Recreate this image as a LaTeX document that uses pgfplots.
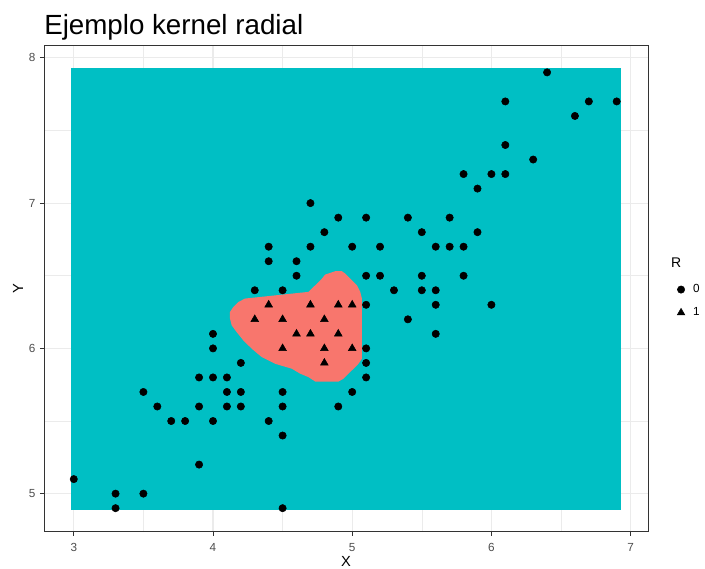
\documentclass[border=0pt]{standalone}
\usepackage{pgfplots}
\pgfplotsset{compat=1.18}
\usepackage{pgfplotstable}
\usepackage{fontspec}
\setmainfont{Liberation Sans}
\definecolor{teal}{HTML}{00BFC4}
\definecolor{salmon}{HTML}{F8766D}
\definecolor{gridc}{HTML}{EBEBEB}
\definecolor{grey20}{HTML}{333333}
\definecolor{grey30}{HTML}{4D4D4D}

\pgfplotstableread{
x y
2.983 4.890
6.928 4.890
6.928 7.933
2.983 7.933
}\backgr

\pgfplotstableread{
x y
4.230 6.343
4.686 6.389
4.734 6.434
4.782 6.480
4.806 6.508
4.878 6.531
4.926 6.531
4.950 6.515
4.986 6.480
5.034 6.434
5.058 6.389
5.070 6.343
5.070 5.929
5.045 5.894
5.010 5.860
4.973 5.826
4.937 5.791
4.902 5.772
4.734 5.772
4.686 5.802
4.626 5.826
4.566 5.860
4.446 5.894
4.350 5.940
4.278 5.998
4.218 6.055
4.170 6.112
4.134 6.159
4.122 6.205
4.122 6.251
4.146 6.285
4.182 6.319
}\region

\pgfplotstableread{
x y
3.0 5.1
3.3 5.0
3.3 4.9
3.5 5.0
3.5 5.7
3.6 5.6
3.7 5.5
3.8 5.5
3.9 5.8
3.9 5.6
3.9 5.2
4.0 5.8
4.0 5.5
4.0 6.0
4.0 6.1
4.1 5.8
4.1 5.7
4.1 5.6
4.2 5.9
4.2 5.7
4.2 5.6
4.4 5.5
4.5 5.7
4.5 5.6
4.5 5.4
4.5 4.9
4.9 5.6
5.0 5.7
5.1 5.8
5.1 5.9
5.1 6.0
5.1 6.3
5.1 6.5
4.3 6.4
4.5 6.4
4.6 6.5
4.6 6.6
4.4 6.6
4.4 6.7
4.7 6.7
4.7 7.0
4.8 6.8
4.9 6.9
5.0 6.7
5.1 6.9
5.2 6.7
5.2 6.5
5.3 6.4
5.4 6.9
5.4 6.2
5.5 6.8
5.5 6.5
5.5 6.4
5.6 6.7
5.6 6.4
5.6 6.3
5.6 6.1
5.7 6.9
5.7 6.7
5.8 6.7
5.8 6.5
5.8 7.2
5.9 7.1
5.9 6.8
6.0 7.2
6.0 6.3
6.1 7.2
6.1 7.4
6.1 7.7
6.3 7.3
6.4 7.9
6.6 7.6
6.7 7.7
6.9 7.7
}\rzero

\pgfplotstableread{
x y
4.4 6.3
4.7 6.3
4.9 6.3
5.0 6.3
4.3 6.2
4.5 6.2
4.8 6.2
4.6 6.1
4.7 6.1
4.9 6.1
4.5 6.0
4.8 6.0
5.0 6.0
4.8 5.9
}\rone

\begin{document}
\begin{tikzpicture}
\begin{axis}[
  at={(33pt,27.225pt)}, anchor=south west,
  scale only axis, width=453pt, height=364.65pt,
  xmin=2.786, xmax=7.125, ymin=4.738, ymax=8.085,
  xtick={3,4,5,6,7}, ytick={5,6,7,8},
  minor xtick={3.5,4.5,5.5,6.5}, minor ytick={5.5,6.5,7.5},
  grid=both,
  major grid style={color=gridc, line width=0.8pt},
  minor grid style={color=gridc, line width=0.4pt},
  minor tick length=0pt,
  tick align=outside, major tick length=3pt,
  xtick pos=left, ytick pos=left,
  tick style={color=grey20, line width=0.6pt},
  axis line style={color=grey20, line width=0.7pt},
  /pgf/number format/assume math mode=true,
  ticklabel style={font=\fontsize{8.8}{10}\selectfont, color=grey30},
  xticklabel style={yshift=-2.2pt},
  xlabel={X}, ylabel={Y},
  label style={font=\fontsize{11}{13}\selectfont},
  xlabel style={at={(axis description cs:0.5,0)}, anchor=north, inner sep=0pt, yshift=-18.2pt},
  ylabel style={at={(axis description cs:0,0.5)}, anchor=center, inner sep=0pt, yshift=19.5pt},
  title={Ejemplo kernel radial},
  title style={at={(axis description cs:0,1)}, anchor=base west, inner sep=0pt, yshift=2.4pt, font=\fontsize{20.8}{24}\selectfont},
  clip=false,
  legend image code/.code={\path[draw=none, fill=none] (0pt,-2pt) rectangle (15pt,2pt); \draw[#1] plot coordinates {(8pt,0pt)};},
  legend style={draw=none, fill=none, at={(rel axis cs:1.03,0.52)}, anchor=north west, font=\fontsize{8.8}{10}\selectfont, row sep=5.8pt},
  legend cell align=left,
]
\addplot[fill=teal, draw=none, forget plot] table {\backgr} -- cycle;
\addplot[fill=salmon, draw=none, forget plot] table {\region} -- cycle;
\addplot[only marks, mark=*, mark size=2.75pt, color=black] table {\rzero};
\addlegendentry{0}
\addplot[only marks, mark=triangle*, mark size=3.3pt, color=black] table {\rone};
\addlegendentry{1}
\node[anchor=base west, inner sep=0pt, font=\fontsize{10.5}{12}\selectfont] at (rel axis cs:1.038,0.5424) {R};
\end{axis}
\pgfresetboundingbox
\path[use as bounding box] (0,0) rectangle (528.75pt,426pt);
\end{tikzpicture}
\end{document}
